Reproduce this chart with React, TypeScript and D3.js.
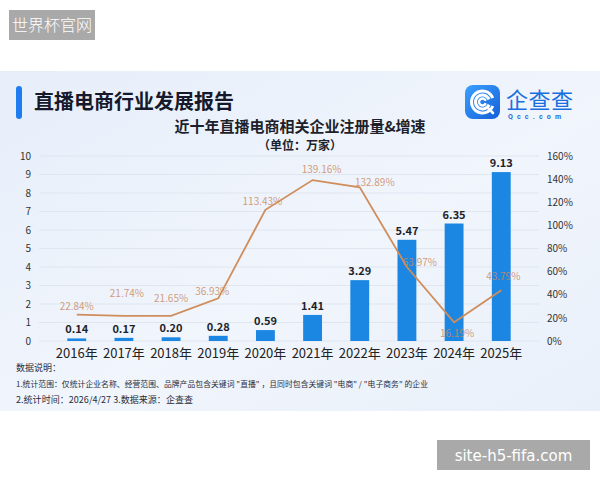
import React, { useEffect, useRef } from "react";
import * as d3 from "d3";

const years = ["2016年", "2017年", "2018年", "2019年", "2020年", "2021年", "2022年", "2023年", "2024年", "2025年"];
const counts = [0.14, 0.17, 0.2, 0.28, 0.59, 1.41, 3.29, 5.47, 6.35, 9.13];
const growth = [22.84, 21.74, 21.65, 36.93, 113.43, 139.16, 132.89, 63.97, 16.19, 43.79];
const leftTicks = [0, 1, 2, 3, 4, 5, 6, 7, 8, 9, 10];
const rightTicks = [0, 20, 40, 60, 80, 100, 120, 140, 160];
// label nudges so they sit where the original has them
const growthLabelOffset: [number, number][] = [
  [0, -9], [3, -23], [0, -18], [-6, -7], [-3, -9], [9, -11], [15, -5], [13, -5], [3, 11], [2, -14],
];
const notes = [
  "数据说明：",
  "1.统计范围：仅统计企业名称、经营范围、品牌产品包含关键词 \"直播\" ，且同时包含关键词 \"电商\" / \"电子商务\" 的企业",
  "2.统计时间：2026/4/27  3.数据来源：企查查",
];
const noteWidths = [0, 412, 177];
const noteSizes = [9, 7.8, 9];

const FONT = "'Noto Sans CJK SC', 'Noto Sans', sans-serif";

const App: React.FC = () => {
  const svgRef = useRef<SVGSVGElement>(null);

  useEffect(() => {
    if (!svgRef.current) return;
    const svg = d3.select(svgRef.current);
    svg.selectAll("*").remove();

    const W = 600, H = 480;
    const margin = { top: 156, left: 39, right: 61, bottom: 139 };
    const innerW = W - margin.left - margin.right;
    const innerH = H - margin.top - margin.bottom;

    const defs = svg.append("defs");
    const bg = defs.append("linearGradient").attr("id", "bg").attr("x1", "0").attr("y1", "0").attr("x2", "1").attr("y2", "1");
    bg.append("stop").attr("offset", "0%").attr("stop-color", "#e6eefa");
    bg.append("stop").attr("offset", "55%").attr("stop-color", "#f1f5fc");
    bg.append("stop").attr("offset", "100%").attr("stop-color", "#e9f0fa");
    const logoG = defs.append("linearGradient").attr("id", "logo").attr("x1", "0").attr("y1", "0").attr("x2", "1").attr("y2", "1");
    logoG.append("stop").attr("offset", "0%").attr("stop-color", "#3aa0ff");
    logoG.append("stop").attr("offset", "100%").attr("stop-color", "#1560d8");

    svg.append("rect").attr("width", W).attr("height", H).attr("fill", "#fff");
    svg.append("rect").attr("x", 0).attr("y", 71).attr("width", W).attr("height", 340).attr("fill", "url(#bg)");

    // header
    svg.append("rect").attr("x", 16).attr("y", 86).attr("width", 6).attr("height", 33).attr("rx", 3).attr("fill", "#1f7cf0");
    svg.append("text").attr("x", 34).attr("y", 109).attr("font-size", 20).attr("font-weight", 700)
      .attr("fill", "#15192b").attr("font-family", FONT).text("直播电商行业发展报告");

    // logo
    svg.append("rect").attr("x", 465).attr("y", 85).attr("width", 35).attr("height", 34).attr("rx", 8).attr("fill", "url(#logo)");
    const arcC = d3.arc();
    [11, 7, 3.5].forEach((r, i) => {
      svg.append("path")
        .attr("transform", "translate(482.5,102)")
        .attr("d", arcC({ innerRadius: r - (i === 2 ? 1.2 : 1.5), outerRadius: r + (i === 2 ? 1.2 : 1.5), startAngle: Math.PI * 0.62, endAngle: Math.PI * 2.38 }) || "")
        .attr("fill", "#fff");
    });
    svg.append("line").attr("x1", 488).attr("y1", 108).attr("x2", 493).attr("y2", 113)
      .attr("stroke", "#fff").attr("stroke-width", 2.6).attr("stroke-linecap", "round");
    svg.append("text").attr("x", 506).attr("y", 108).attr("font-size", 22).attr("font-weight", 400)
      .attr("fill", "#1a6fe0").attr("font-family", FONT).attr("letter-spacing", 0.5).text("企查查");
    svg.append("text").attr("x", 508).attr("y", 119).attr("font-size", 7).attr("font-weight", 700)
      .attr("fill", "#1a6fe0").attr("font-family", "Roboto, sans-serif").attr("letter-spacing", 4.2).text("Qcc.com");

    // chart titles
    svg.append("text").attr("x", 300).attr("y", 132).attr("text-anchor", "middle").attr("font-size", 15).attr("font-weight", 700)
      .attr("fill", "#1d1f2b").attr("font-family", FONT).text("近十年直播电商相关企业注册量&增速");
    svg.append("text").attr("x", 300).attr("y", 150).attr("text-anchor", "middle").attr("font-size", 12).attr("font-weight", 700)
      .attr("fill", "#1d1f2b").attr("font-family", FONT).text("（单位：万家）");

    const g = svg.append("g").attr("transform", `translate(${margin.left},${margin.top})`);

    const x = d3.scaleBand().domain(years).range([0, innerW]).padding(0.6);
    const yL = d3.scaleLinear().domain([0, 10]).range([innerH, 0]);
    const yR = d3.scaleLinear().domain([0, 160]).range([innerH, 0]);
    const cx = (d: string) => (x(d) || 0) + x.bandwidth() / 2;

    // grid
    g.selectAll(".grid").data(leftTicks).enter().append("line")
      .attr("x1", 0).attr("x2", innerW)
      .attr("y1", d => yL(d)).attr("y2", d => yL(d))
      .attr("stroke", "#dfe6f0").attr("stroke-width", 1);

    // left axis
    const axL = g.append("g").call(d3.axisLeft(yL).tickValues(leftTicks).tickSize(0).tickPadding(8));
    axL.select(".domain").remove();
    axL.selectAll("text").attr("font-size", 10).attr("fill", "#333").attr("font-family", FONT);

    // right axis
    const axR = g.append("g").attr("transform", `translate(${innerW},0)`)
      .call(d3.axisRight(yR).tickValues(rightTicks).tickSize(0).tickPadding(8).tickFormat(d => `${d}%`));
    axR.select(".domain").remove();
    axR.selectAll("text").attr("font-size", 10).attr("fill", "#333").attr("font-family", FONT);

    // bottom axis
    const axB = g.append("g").attr("transform", `translate(0,${innerH})`)
      .call(d3.axisBottom(x).tickSize(0).tickPadding(8));
    axB.select(".domain").remove();
    axB.selectAll("text").attr("font-size", 13).attr("fill", "#222").attr("font-family", FONT);

    // bars
    g.selectAll(".bar").data(counts).enter().append("rect")
      .attr("x", (_, i) => x(years[i]) || 0)
      .attr("y", d => yL(d))
      .attr("width", x.bandwidth())
      .attr("height", d => innerH - yL(d))
      .attr("fill", "#1b87e3");

    g.selectAll(".barlabel").data(counts).enter().append("text")
      .attr("x", (_, i) => cx(years[i]))
      .attr("y", d => yL(d) - 5)
      .attr("text-anchor", "middle").attr("font-size", 11).attr("font-weight", 700)
      .attr("fill", "#1d1f2b").attr("font-family", FONT)
      .text(d => d.toFixed(2));

    // growth line
    const line = d3.line<number>().x((_, i) => cx(years[i])).y(d => yR(d));
    g.append("path").datum(growth).attr("d", line).attr("fill", "none")
      .attr("stroke", "#d08d5c").attr("stroke-width", 1.8);

    g.selectAll(".glabel").data(growth).enter().append("text")
      .attr("x", (_, i) => cx(years[i]) + growthLabelOffset[i][0])
      .attr("y", (d, i) => yR(d) + growthLabelOffset[i][1] + 4)
      .attr("text-anchor", "middle").attr("font-size", 10)
      .attr("fill", "#c98a62").attr("fill-opacity", 0.85).attr("font-family", FONT)
      .text(d => `${d.toFixed(2)}%`);

    // notes
    notes.forEach((t, i) => {
      const tx = svg.append("text").attr("x", 16).attr("y", 371 + i * 16).attr("font-size", noteSizes[i])
        .attr("fill", "#2a2d3a").attr("font-family", FONT).text(t);
      if (noteWidths[i]) tx.attr("textLength", noteWidths[i]).attr("lengthAdjust", "spacing");
    });

    // watermarks
    svg.append("rect").attr("x", 9).attr("y", 10).attr("width", 86).attr("height", 30).attr("fill", "#a9a9a9");
    svg.append("text").attr("x", 52).attr("y", 31).attr("text-anchor", "middle").attr("font-size", 16)
      .attr("fill", "#fff").attr("font-family", FONT).attr("font-weight", 300).text("世界杯官网");
    svg.append("rect").attr("x", 437).attr("y", 440).attr("width", 153).attr("height", 30).attr("fill", "#a9a9a9");
    svg.append("text").attr("x", 513.5).attr("y", 461).attr("text-anchor", "middle").attr("font-size", 15)
      .attr("fill", "#fff").attr("font-family", "'DejaVu Sans', sans-serif").text("site-h5-fifa.com");
  }, []);

  return (
    <div style={{ position: "absolute", top: 0, left: 0, width: 600, height: 480 }}>
      <svg ref={svgRef} width={600} height={480} style={{ display: "block" }} />
    </div>
  );
};

export default App;
